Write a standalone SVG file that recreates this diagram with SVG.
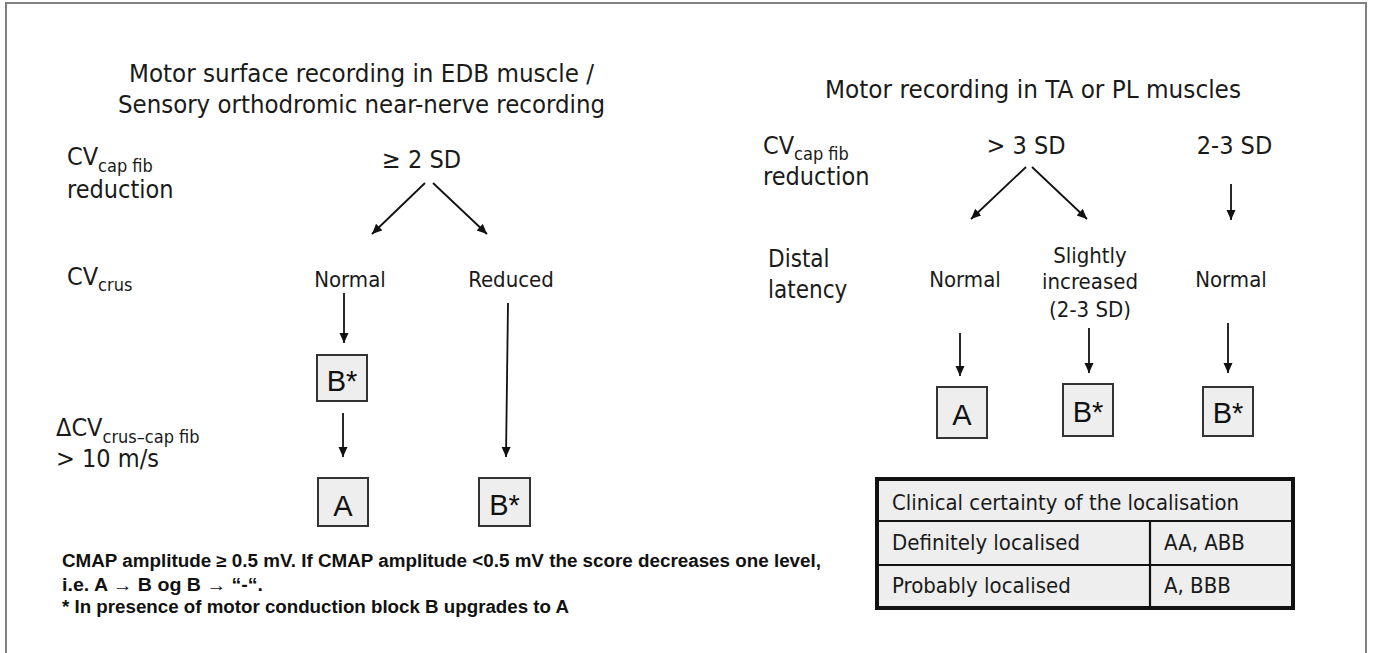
<svg xmlns="http://www.w3.org/2000/svg" width="1373" height="653" viewBox="0 0 1373 653">
<defs>
<marker id="ah" markerUnits="userSpaceOnUse" markerWidth="11" markerHeight="10" refX="10" refY="4.5" orient="auto">
<path d="M0,0 L10,4.5 L0,9 z" fill="#111"/>
</marker>
<style>
.t{font-family:"DejaVu Sans Condensed","DejaVu Sans",sans-serif;fill:#1a1a1a}
.lab{font-size:25px}
.sub{font-size:18px}
.mid{font-size:22px;text-anchor:middle}
.box{fill:#eeeeee;stroke:#333;stroke-width:2}
.bt{font-family:"Liberation Sans",Arial,sans-serif;font-size:29px;fill:#111;text-anchor:middle}
.fn{font-family:"Liberation Sans",Arial,sans-serif;font-size:17.5px;font-weight:bold;fill:#111}
.ln{stroke:#111;stroke-width:1.8;fill:none;marker-end:url(#ah)}
.tb{font-family:"DejaVu Sans Condensed","DejaVu Sans",sans-serif;font-size:22px;fill:#1a1a1a}
</style>
</defs>
<rect x="0" y="0" width="1373" height="653" fill="#fff"/>
<rect x="6" y="3" width="1360" height="670" fill="none" stroke="#808080" stroke-width="2"/>

<g id="left-title">
<text class="t" x="361.5" y="82" font-size="25" text-anchor="middle" textLength="465" lengthAdjust="spacingAndGlyphs">Motor surface recording in EDB muscle /</text>
<text class="t" x="361.5" y="113" font-size="25" text-anchor="middle" textLength="487" lengthAdjust="spacingAndGlyphs">Sensory orthodromic near-nerve recording</text>
</g>
<g id="left-label-cv">
<text class="t lab" x="67" y="165">CV<tspan class="sub" dy="7">cap fib</tspan></text>
<text class="t lab" x="67" y="198">reduction</text>
</g>
<g id="left-label-crus">
<text class="t lab" x="67" y="285">CV<tspan class="sub" dy="6">crus</tspan></text>
</g>
<g id="left-label-delta">
<text class="t lab" x="56" y="436">ΔCV<tspan class="sub" dy="7">crus–cap fib</tspan></text>
<text class="t lab" x="56" y="467">&gt; 10 m/s</text>
</g>
<g id="n-ge2sd"><text class="t lab" x="421.5" y="168" text-anchor="middle">≥ 2 SD</text></g>
<g id="n-normal-l"><text class="t mid" x="350" y="287">Normal</text></g>
<g id="n-reduced"><text class="t mid" x="511" y="287">Reduced</text></g>
<g id="n-bstar-1"><rect class="box" x="317" y="355" width="50" height="46"/><text class="bt" x="342" y="391">B*</text></g>
<g id="n-a-1"><rect class="box" x="318" y="478" width="50" height="48"/><text class="bt" x="343" y="516">A</text></g>
<g id="n-bstar-2"><rect class="box" x="479" y="478" width="51" height="48"/><text class="bt" x="504.5" y="515">B*</text></g>

<g id="footnote">
<text class="fn" x="62" y="567" textLength="759" lengthAdjust="spacingAndGlyphs">CMAP amplitude ≥ 0.5 mV. If CMAP amplitude &lt;0.5 mV the score decreases one level,</text>
<text class="fn" x="62" y="591" textLength="201" lengthAdjust="spacingAndGlyphs">i.e. A →  B og B → “-“.</text>
<text class="fn" x="62" y="613" textLength="507" lengthAdjust="spacingAndGlyphs">* In presence of motor conduction block B upgrades to A</text>
</g>

<g id="right-title">
<text class="t" x="1033" y="98" font-size="25" text-anchor="middle" textLength="416" lengthAdjust="spacingAndGlyphs">Motor recording in TA or PL muscles</text>
</g>
<g id="right-label-cv">
<text class="t lab" x="763" y="154">CV<tspan class="sub" dy="6">cap fib</tspan></text>
<text class="t lab" x="763" y="185">reduction</text>
</g>
<g id="right-label-dl">
<text class="t" font-size="24" x="768" y="267">Distal</text>
<text class="t" font-size="24" x="768" y="298">latency</text>
</g>
<g id="n-gt3sd"><text class="t lab" x="1026" y="154" text-anchor="middle">&gt; 3 SD</text></g>
<g id="n-23sd"><text class="t lab" x="1234.5" y="154" text-anchor="middle">2-3 SD</text></g>
<g id="n-normal-r1"><text class="t mid" x="965" y="287">Normal</text></g>
<g id="n-slightly">
<text class="t mid" x="1090" y="263">Slightly</text>
<text class="t mid" x="1090" y="289">increased</text>
<text class="t mid" x="1090" y="317">(2-3 SD)</text>
</g>
<g id="n-normal-r2"><text class="t mid" x="1231" y="287">Normal</text></g>
<g id="n-a-r"><rect class="box" x="937" y="387" width="50" height="51"/><text class="bt" x="962" y="425">A</text></g>
<g id="n-bstar-r1"><rect class="box" x="1063" y="384" width="50" height="52"/><text class="bt" x="1088" y="422">B*</text></g>
<g id="n-bstar-r2"><rect class="box" x="1203" y="387" width="50" height="49"/><text class="bt" x="1228" y="423">B*</text></g>

<g id="table">
<rect x="877" y="479" width="416" height="129" fill="#eeeeee" stroke="#111" stroke-width="4"/>
<line x1="877" y1="521" x2="1293" y2="521" stroke="#111" stroke-width="2.2"/>
<line x1="877" y1="565" x2="1293" y2="565" stroke="#111" stroke-width="2.2"/>
<line x1="1150" y1="521" x2="1150" y2="608" stroke="#111" stroke-width="2.2"/>
<text class="tb" x="892" y="510" textLength="347" lengthAdjust="spacingAndGlyphs">Clinical certainty of the localisation</text>
<text class="tb" x="892" y="550">Definitely localised</text>
<text class="tb" x="1164" y="550">AA, ABB</text>
<text class="tb" x="892" y="593">Probably localised</text>
<text class="tb" x="1164" y="593">A, BBB</text>
</g>

<g id="connectors">
<line class="ln" x1="425" y1="183" x2="372" y2="234"/>
<line class="ln" x1="433" y1="183" x2="487" y2="234"/>
<line class="ln" x1="344" y1="293" x2="344" y2="343"/>
<line class="ln" x1="508" y1="303" x2="506" y2="457"/>
<line class="ln" x1="343" y1="413" x2="343" y2="457"/>
<line class="ln" x1="1026" y1="167" x2="971" y2="219"/>
<line class="ln" x1="1032" y1="167" x2="1087" y2="219"/>
<line class="ln" x1="1231" y1="184" x2="1231" y2="220"/>
<line class="ln" x1="960" y1="333" x2="960" y2="376"/>
<line class="ln" x1="1089" y1="328" x2="1089" y2="373"/>
<line class="ln" x1="1228" y1="323" x2="1228" y2="373"/>
</g>
</svg>
